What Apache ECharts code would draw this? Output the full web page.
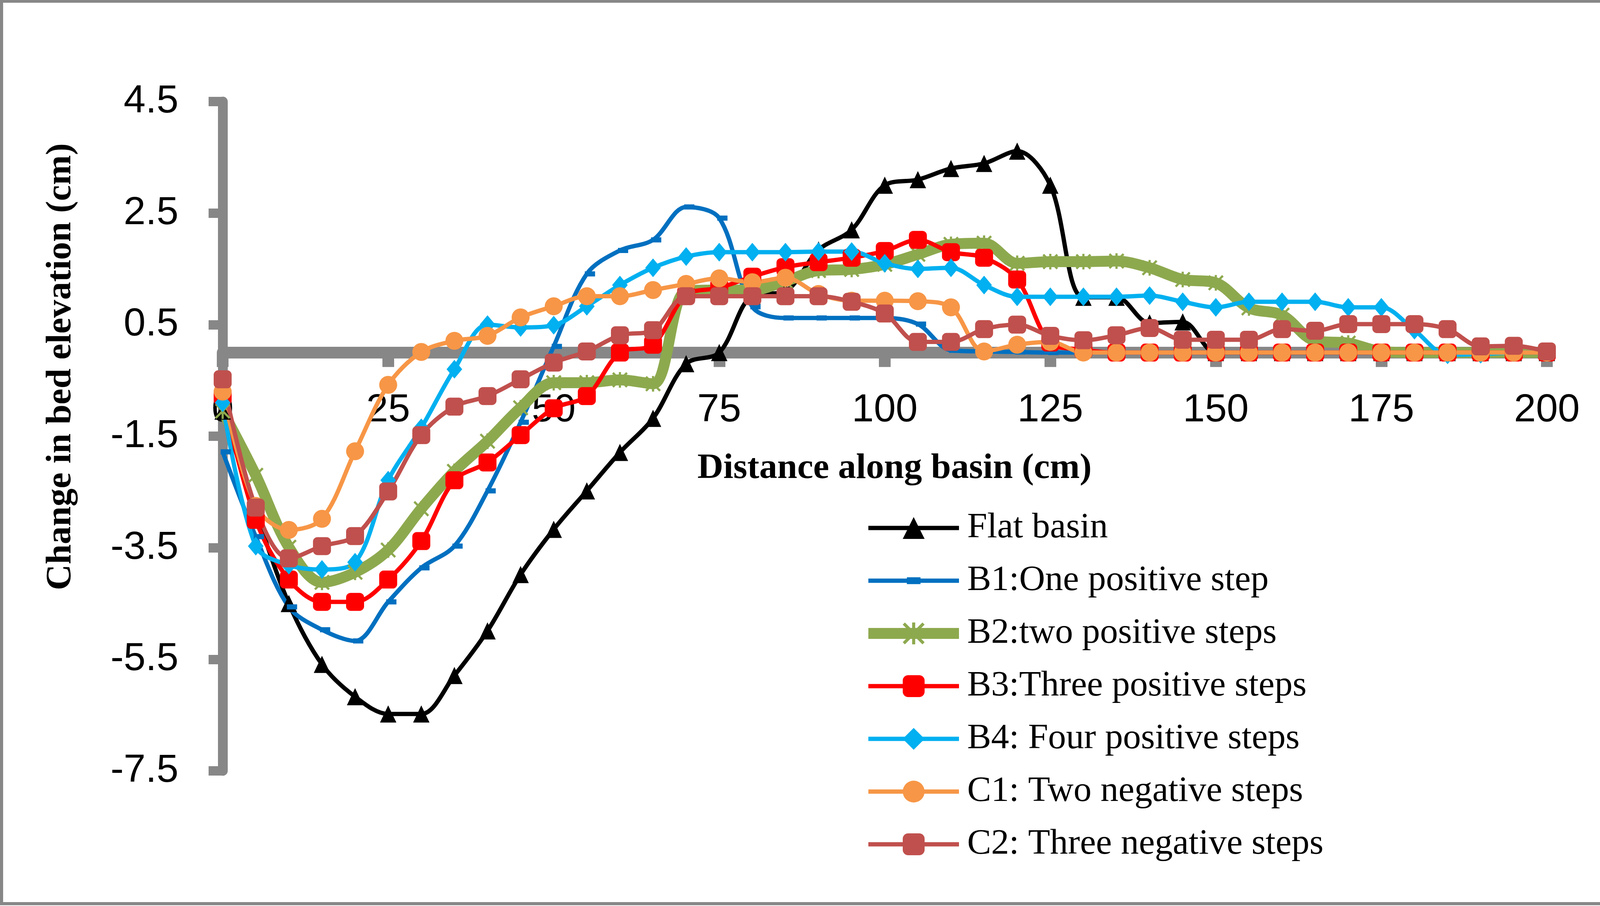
<!DOCTYPE html>
<html>
<head>
<meta charset="utf-8">
<title>Change in bed elevation</title>
<script src="https://cdn.jsdelivr.net/npm/echarts@6/dist/echarts.min.js"></script>
<style>
  html, body { margin: 0; padding: 0; background: #fff; }
  #main { width: 4238px; height: 2320px; }
</style>
</head>
<body>
<div id="main"></div>
<script>
// distance along the basin (cm)
var distance = [0, 5, 10, 15, 20, 25, 30, 35, 40, 45, 50, 55, 60, 65, 70, 75, 80, 85, 90, 95,
  100, 105, 110, 115, 120, 125, 130, 135, 140, 145, 150, 155, 160, 165, 170, 175, 180, 185, 190, 195, 200];

// change in bed elevation (cm)
var flatBasin = [-1.05, -2.85, -4.5, -5.59, -6.17, -6.48, -6.48, -5.79, -4.99, -3.98,
  -3.17, -2.48, -1.79, -1.18, -0.2, 0, 1.02, 1.1, 1.84, 2.2,
  3.0, 3.1, 3.3, 3.39, 3.61, 3.0, 0.99, 0.99, 0.53, 0.55,
  0, 0, 0, 0, 0, 0, 0, 0, 0, 0, 0];
var b1 = [-1.78, -3.3, -4.56, -4.97, -5.17, -4.47, -3.86, -3.47, -2.48, -1.25,
  0.11, 1.41, 1.83, 2.02, 2.61, 2.41, 0.82, 0.62, 0.62, 0.62,
  0.62, 0.51, 0.04, 0.02, 0.01, 0, 0, 0, 0, 0,
  0, 0, 0, 0, 0, 0, 0, 0, 0, 0, 0];
var b2 = [-1.05, -2.2, -3.49, -4.12, -3.94, -3.54, -2.8, -2.13, -1.59, -0.99,
  -0.54, -0.54, -0.49, -0.56, 1.1, 1.12, 1.12, 1.28, 1.47, 1.49,
  1.58, 1.76, 1.94, 1.96, 1.6, 1.63, 1.63, 1.64, 1.52, 1.31,
  1.25, 0.8, 0.67, 0.21, 0.17, 0.02, 0, 0, 0, 0, 0];
var b3 = [-0.78, -3.0, -4.07, -4.47, -4.47, -4.07, -3.38, -2.29, -1.97, -1.48,
  -1.0, -0.78, 0, 0.14, 1.03, 1.16, 1.36, 1.53, 1.62, 1.7,
  1.82, 2.02, 1.8, 1.7, 1.31, 0.18, 0.05, 0, 0, 0,
  0, 0, 0, 0, 0, 0, 0, 0, 0, 0, 0];
var b4 = [-0.9, -3.47, -3.81, -3.89, -3.76, -2.29, -1.35, -0.3, 0.5, 0.45,
  0.49, 0.83, 1.21, 1.52, 1.72, 1.8, 1.8, 1.8, 1.81, 1.81,
  1.6, 1.5, 1.52, 1.21, 1.0, 1.0, 1.0, 1.0, 1.02, 0.91,
  0.81, 0.91, 0.91, 0.91, 0.81, 0.81, 0.4, -0.04, -0.03, 0, 0];
var c1 = [-0.7, -2.75, -3.18, -2.98, -1.77, -0.58, 0.01, 0.21, 0.3, 0.63,
  0.83, 1.01, 1.01, 1.12, 1.23, 1.33, 1.26, 1.34, 1.05, 0.93,
  0.93, 0.92, 0.81, 0.02, 0.14, 0.19, 0, 0, 0, 0,
  0, 0, 0, 0, 0, 0, 0, 0, 0, 0, 0];
var c2 = [-0.48, -2.78, -3.69, -3.47, -3.29, -2.49, -1.48, -0.97, -0.78, -0.48,
  -0.18, 0.02, 0.31, 0.4, 1.01, 1.01, 1.01, 1.01, 1.01, 0.91,
  0.7, 0.19, 0.19, 0.42, 0.5, 0.3, 0.22, 0.31, 0.44, 0.23,
  0.23, 0.23, 0.42, 0.39, 0.51, 0.51, 0.51, 0.42, 0.11, 0.12, 0.02];

// tick labels
var yTicks = [-7.5, -5.5, -3.5, -1.5, 0.5, 2.5, 4.5];
var xTicks = [0, 25, 50, 75, 100, 125, 150, 175, 200];

var seriesNames = ['Flat basin', 'B1:One positive step', 'B2:two positive steps',
  'B3:Three positive steps', 'B4: Four positive steps', 'C1: Two negative steps',
  'C2: Three negative steps'];

var AXIS_GREY = '#878787';
var SANS = "'Liberation Sans', Arial, sans-serif";
var SERIF = "'Times New Roman', 'Liberation Serif', serif";

// asterisk-like marker used by Excel for B2
var starPath = 'path://M4.3,0 L5.7,0 L5.7,10 L4.3,10 Z M0,1 L1,0 L10,9 L9,10 Z M9,0 L10,1 L1,10 L0,9 Z';
// flat dash marker for B1, padded to a square box so it keeps its shape in the legend too
var dashPath = 'path://M-0.6,-1.1 L-0.6,-1.1 M2.6,2.1 L2.6,2.1 M0,0 L2,0 L2,1 L0,1 Z';

var GRID_TOP = 260, GRID_BOTTOM = 346;
var PLOT_H = 2320 - GRID_TOP - GRID_BOTTOM;

function pairs(values) {
  var out = [];
  for (var i = 0; i < distance.length; i++) {
    out.push([distance[i], values[i]]);
  }
  return out;
}

function makeSeries(name, values, color, symbol, size, width, extra) {
  var s = {
    name: name,
    type: 'line',
    data: pairs(values),
    smooth: 0.33,
    symbol: symbol,
    symbolSize: size,
    showAllSymbol: true,
    lineStyle: { color: color, width: width },
    itemStyle: { color: color, borderWidth: 0 },
    emphasis: { disabled: true }
  };
  if (extra) {
    for (var k in extra) s[k] = extra[k];
  }
  return s;
}

var yMin = yTicks[0], yMax = yTicks[yTicks.length - 1];
// x axis sits on y = 0, moved up from the grid bottom
var xAxisOffset = -PLOT_H * (0 - yMin) / (yMax - yMin);

var chart = echarts.init(document.getElementById('main'), null, { renderer: 'canvas' });

chart.setOption({
  animation: false,
  backgroundColor: '#ffffff',
  grid: { left: 570, right: 278, top: GRID_TOP, bottom: GRID_BOTTOM, containLabel: false },
  xAxis: {
    type: 'value',
    min: 0,
    max: 200,
    interval: 25,
    offset: xAxisOffset,
    axisLine: { onZero: false, lineStyle: { color: AXIS_GREY, width: 30 } },
    axisTick: { show: true, inside: false, length: 37, lineStyle: { color: AXIS_GREY, width: 30 },
      customValues: xTicks },
    axisLabel: { margin: 98, fontSize: 101, fontFamily: SANS, color: '#000', customValues: xTicks },
    splitLine: { show: false }
  },
  yAxis: {
    type: 'value',
    min: yMin,
    max: yMax,
    axisLine: { show: true, onZero: false, lineStyle: { color: AXIS_GREY, width: 25 } },
    axisTick: { show: true, inside: false, length: 36, lineStyle: { color: AXIS_GREY, width: 24 },
      customValues: yTicks },
    axisLabel: { margin: 113, fontSize: 101, fontFamily: SANS, color: '#000', customValues: yTicks,
      formatter: function (v) { return v.toFixed(1); } },
    splitLine: { show: false }
  },
  legend: {
    orient: 'vertical',
    left: 2204,
    top: 1301,
    itemWidth: 232,
    itemHeight: 70,
    itemGap: 43,
    selectedMode: false,
    data: seriesNames,
    lineStyle: { width: 'inherit' },
    textStyle: { fontSize: 92, lineHeight: 92, fontFamily: SERIF, color: '#000', padding: [0, 0, 0, 16] }
  },
  graphic: [
    {
      type: 'rect',
      silent: true,
      shape: { x: 4, y: 3, width: 4229, height: 2311 },
      style: { fill: 'none', stroke: AXIS_GREY, lineWidth: 8 }
    },
    {
      type: 'text',
      silent: true,
      x: 2290,
      y: 1200,
      style: { text: 'Distance along basin (cm)', fontSize: 92, fontWeight: 'bold', fontFamily: SERIF,
        fill: '#000', align: 'center', verticalAlign: 'middle' }
    },
    {
      type: 'text',
      silent: true,
      x: 156,
      y: 939,
      rotation: Math.PI / 2,
      style: { text: 'Change in bed elevation (cm)', fontSize: 92, fontWeight: 'bold', fontFamily: SERIF,
        fill: '#000', align: 'center', verticalAlign: 'middle' }
    }
  ],
  series: [
    makeSeries(seriesNames[0], flatBasin, '#000000', 'triangle', [42, 44], 11),
    makeSeries(seriesNames[1], b1, '#0070C0', dashPath, 42, 11, { symbolOffset: [8, 0], symbolKeepAspect: true }),
    makeSeries(seriesNames[2], b2, '#8DA94E', starPath, 40, 28),
    makeSeries(seriesNames[3], b3, '#FF0000', 'roundRect', 46, 11),
    makeSeries(seriesNames[4], b4, '#00B0F0', 'diamond', [40, 48], 11),
    makeSeries(seriesNames[5], c1, '#F79646', 'circle', 46, 11),
    makeSeries(seriesNames[6], c2, '#C0504D', 'roundRect', 46, 11)
  ]
});
</script>
</body>
</html>
